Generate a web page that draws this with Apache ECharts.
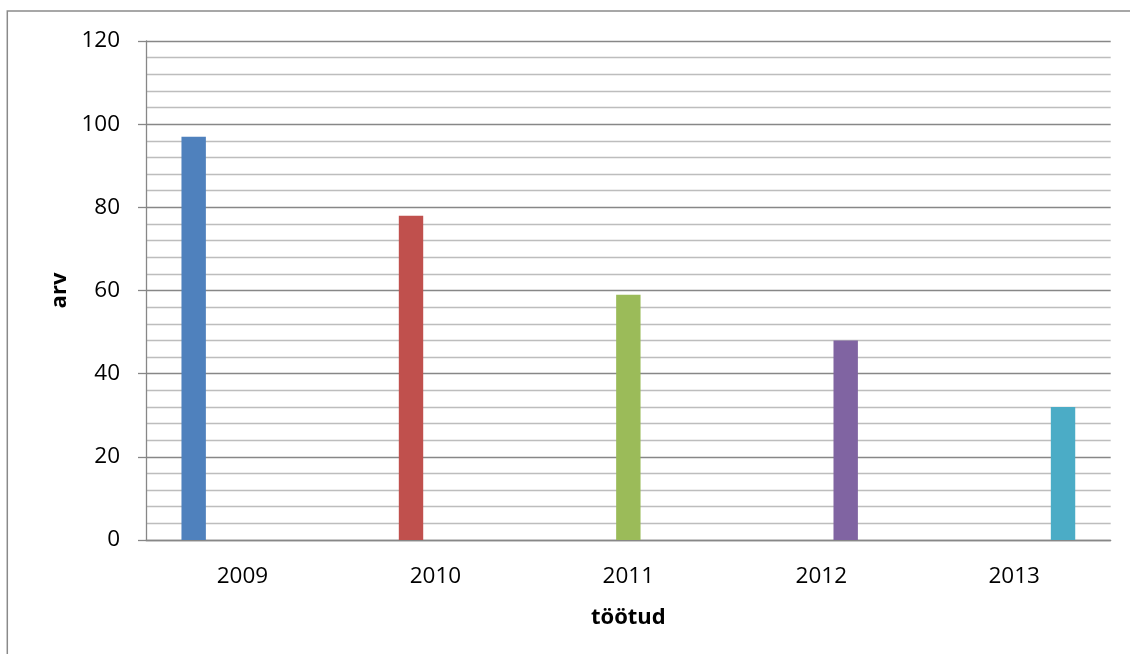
<!DOCTYPE html>
<html>
<head>
<meta charset="utf-8">
<script src="https://cdn.jsdelivr.net/npm/echarts@6/dist/echarts.min.js"></script>
<style>
html,body{margin:0;padding:0;background:#fff;}
#c{width:1130px;height:654px;}
</style>
</head>
<body>
<div id="c"></div>
<script>
const categories = ['2009', '2010', '2011', '2012', '2013'];
const values = [97, 78, 59, 48, 32];
const colors = ['#4F81BD', '#C0504D', '#9BBB59', '#8064A2', '#4BACC6'];
const yTicks = [0, 20, 40, 60, 80, 100, 120];
const xName = 'töötud';
const yName = 'arv';

const chart = echarts.init(document.getElementById('c'), null, {renderer: 'canvas'});
const font = '"Open Sans", "Noto Sans", sans-serif';

const series = categories.map((c, i) => ({
  name: c,
  type: 'bar',
  barWidth: 24.4,
  barGap: '0%',
  itemStyle: {color: colors[i]},
  data: categories.map((_, j) => (i === j ? values[i] : null))
}));

chart.setOption({
  animation: false,
  textStyle: {fontFamily: font},
  graphic: [{
    type: 'rect',
    shape: {x: 7.3, y: 11, width: 1200, height: 700},
    style: {fill: 'none', stroke: '#8a8a8a', lineWidth: 1.5},
    silent: true
  }],
  grid: {left: 146, top: 41, right: 19.3, bottom: 114, containLabel: false},
  xAxis: {
    type: 'category',
    data: categories,
    name: xName,
    nameLocation: 'middle',
    nameGap: 67,
    nameTextStyle: {fontSize: 22, fontWeight: 'bold', color: '#000', fontFamily: font},
    axisLine: {show: true, lineStyle: {color: '#878787', width: 1.3}},
    axisTick: {show: false},
    axisLabel: {fontSize: 22.5, color: '#000', margin: 25, fontFamily: font},
    splitLine: {show: false}
  },
  yAxis: {
    type: 'value',
    min: yTicks[0],
    max: yTicks[yTicks.length - 1],
    interval: yTicks[1] - yTicks[0],
    name: yName,
    nameLocation: 'middle',
    nameGap: 75,
    nameRotate: 90,
    nameTextStyle: {fontSize: 22, fontWeight: 'bold', color: '#000', fontFamily: font},
    axisLine: {show: true, lineStyle: {color: '#878787', width: 1.3}},
    axisTick: {show: true, length: 8, lineStyle: {color: '#878787', width: 1.3}},
    axisLabel: {fontSize: 22.5, color: '#000', margin: 26, fontFamily: font},
    splitLine: {show: true, lineStyle: {color: '#878787', width: 1.3}},
    minorTick: {show: false, splitNumber: 5},
    minorSplitLine: {show: true, lineStyle: {color: '#bdbdbd', width: 1.3}}
  },
  series: series
});
</script>
</body>
</html>
